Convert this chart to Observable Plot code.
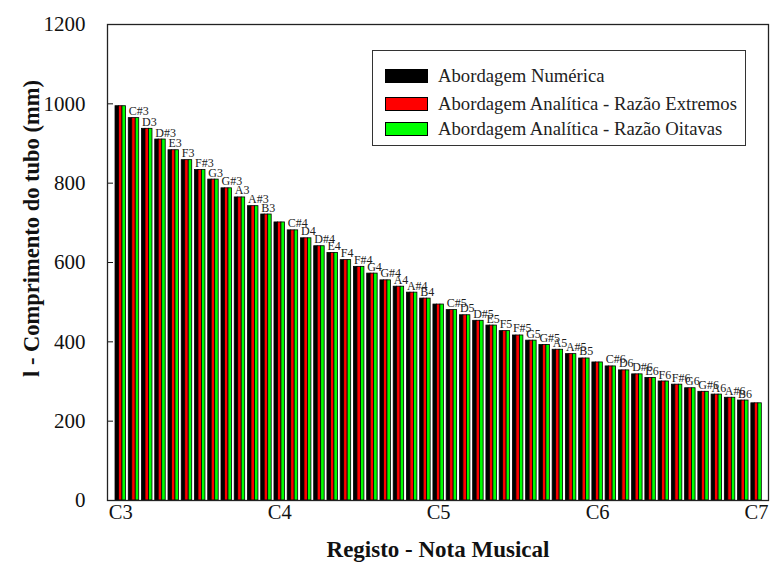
<!DOCTYPE html>
<html>
<head>
<meta charset="utf-8">
<script src="https://cdn.jsdelivr.net/npm/d3@7"></script>
<script src="https://cdn.jsdelivr.net/npm/@observablehq/plot@0.6"></script>
<style>
  body { margin: 0; background: #fff; }
  #wrap { position: relative; width: 771px; height: 563px; font-family: 'Liberation Serif', 'Tinos', 'Times New Roman', Times, 'DejaVu Serif', serif; }
  #wrap svg, #wrap svg text { font-family: 'Liberation Serif', 'Tinos', 'Times New Roman', Times, 'DejaVu Serif', serif !important; }
  #legend { position: absolute; left: 372px; top: 50px; width: 374px; height: 96px; border: 1.5px solid #333; box-sizing: border-box; background: #fff; }
  .row { position: absolute; left: 12px; height: 20px; display: flex; align-items: center; font-size: 18.7px; color: #222; white-space: nowrap; }
  .sw { width: 43px; height: 14px; border: 1px solid #000; margin-right: 10px; box-sizing: border-box; }
</style>
</head>
<body>
<div id="wrap"></div>
<script>
const notes = ["C3","C#3","D3","D#3","E3","F3","F#3","G3","G#3","A3","A#3","B3",
  "C4","C#4","D4","D#4","E4","F4","F#4","G4","G#4","A4","A#4","B4",
  "C5","C#5","D5","D#5","E5","F5","F#5","G5","G#5","A5","A#5","B5",
  "C6","C#6","D6","D#6","E6","F6","F#6","G6","G#6","A6","A#6","B6","C7"];
const numerica = [994,964,937,910,883,858,833,809,787,764,742,721,
  701,681,661,641,624,606,589,572,555,539,524,509,
  494,480,467,453,441,427,416,403,392,380,369,358,
  348,338,328,318,309,300,292,283,274,267,259,252,245];
const razaoExtremos = [994,964,937,910,883,858,833,809,787,764,742,721,
  701,681,661,641,624,606,589,572,555,539,524,509,
  494,480,467,453,441,427,416,403,392,380,369,358,
  348,338,328,318,309,300,292,283,274,267,259,252,245];
const razaoOitavas = [994,964,937,910,883,858,833,809,787,764,742,721,
  701,681,661,641,624,606,589,572,555,539,524,509,
  494,480,467,453,441,427,416,403,392,380,369,358,
  348,338,328,318,309,300,292,283,274,267,259,252,245];
const seriesNames = ["Abordagem Numérica","Abordagem Analítica - Razão Extremos","Abordagem Analítica - Razão Oitavas"];
const seriesColors = ["#000000","#ff0000","#00ff00"];
const yTicks = [0,200,400,600,800,1000,1200];
const xTickNotes = ["C3","C4","C5","C6","C7"];

const seriesValues = [numerica, razaoExtremos, razaoOitavas];
const table = [];
notes.forEach((n, i) => seriesValues.forEach((vals, s) => table.push({i, note: n, s, value: vals[i]})));
const labelData = notes.map((n, i) => ({i, note: n, value: numerica[i]})).filter(d => !xTickNotes.includes(d.note));

const GROUP = 0.79, BW = GROUP / 3;
const font = "'Liberation Serif', 'Tinos', 'Times New Roman', Times, 'DejaVu Serif', serif";

const chart = Plot.plot({
  width: 771,
  height: 563,
  marginLeft: 107,
  marginRight: 3,
  marginTop: 24,
  marginBottom: 63,
  style: {fontFamily: font, background: "#fff", color: "#111"},
  x: {type: "linear", domain: [-1.0, 48.9], axis: null},
  y: {domain: [0, 1200], axis: null},
  marks: [
    Plot.rectY(table, {
      x1: d => d.i - GROUP / 2 + d.s * BW,
      x2: d => d.i - GROUP / 2 + (d.s + 1) * BW,
      y1: 0,
      y2: "value",
      fill: d => seriesColors[d.s],
      stroke: "#000",
      strokeWidth: 0.8
    }),
    Plot.text(labelData, {
      x: d => d.i - GROUP / 2,
      y: "value",
      text: "note",
      textAnchor: "start",
      lineAnchor: "bottom",
      dy: -3,
      fontSize: 12,
      fill: "#222"
    }),
    Plot.axisY({ticks: yTicks, tickSize: -6, tickPadding: 28, fontSize: 21, label: null, tickFormat: d => String(d)}),
    Plot.axisX({ticks: xTickNotes.map(n => notes.indexOf(n)), tickFormat: i => notes[i], tickSize: 0, tickPadding: 4, fontSize: 20.5, label: null}),
    Plot.frame({stroke: "#222", strokeWidth: 1.3}),
    Plot.text(["Registo - Nota Musical"], {frameAnchor: "bottom", dy: 49, fontSize: 23, fontWeight: "bold", lineAnchor: "middle", textAnchor: "middle", fill: "#111"}),
    Plot.text(["l - Comprimento do tubo (mm)"], {frameAnchor: "left", dx: -76, dy: -34, rotate: -90, fontSize: 22.5, fontWeight: "bold", lineAnchor: "middle", textAnchor: "middle", fill: "#111"})
  ]
});

const wrap = document.getElementById("wrap");
wrap.appendChild(chart);

const legend = document.createElement("div");
legend.id = "legend";
const rowTops = [15, 43, 68];
seriesNames.forEach((name, k) => {
  const row = document.createElement("div");
  row.className = "row";
  row.style.top = rowTops[k] + "px";
  const sw = document.createElement("div");
  sw.className = "sw";
  sw.style.background = seriesColors[k];
  const t = document.createElement("span");
  t.textContent = name;
  row.appendChild(sw);
  row.appendChild(t);
  legend.appendChild(row);
});
wrap.appendChild(legend);
</script>
</body>
</html>
